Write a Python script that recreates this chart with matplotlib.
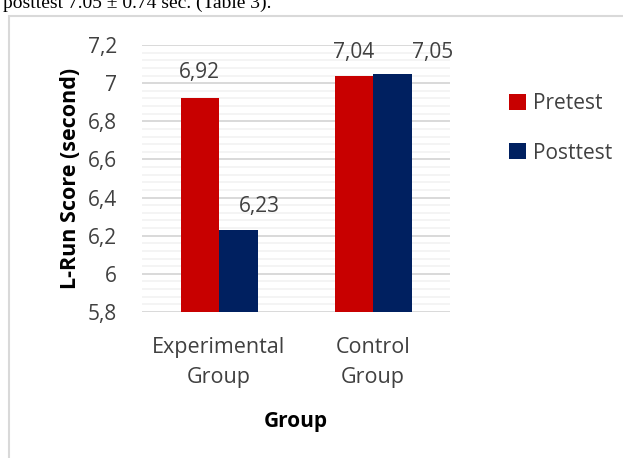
import matplotlib.pyplot as plt
from matplotlib.patches import Rectangle
from matplotlib.ticker import MultipleLocator, FuncFormatter
import numpy as np

plt.rcParams['font.family'] = ['Open Sans', 'DejaVu Sans']

# Data
groups = ['Experimental\nGroup', 'Control\nGroup']
pretest = [6.92, 7.04]
posttest = [6.23, 7.05]
series_names = ['Pretest', 'Posttest']
yticks = [5.8, 6.0, 6.2, 6.4, 6.6, 6.8, 7.0, 7.2]

# Colours
red = '#C80000'
navy = '#002060'
txt = '#404040'

fig = plt.figure(figsize=(6.23, 4.58), dpi=100)
fig.patch.set_facecolor('white')

# cropped caption line from the page above the chart (cut off in the source too)
fig.text(3 / 623, 1 - 7.5 / 458, 'posttest 7.05 \u00b1 0.74 sec. (Table 3).',
         family='Liberation Serif', fontsize=14, va='baseline', ha='left')

# chart border
fig.patches.append(Rectangle((9 / 623, -0.1), 1.2, 1 - 16 / 458 + 0.1,
                             transform=fig.transFigure, fill=False,
                             edgecolor='#D9D9D9', linewidth=1.5))

ax = fig.add_axes([142 / 623, 1 - 312 / 458, 308 / 623, 267 / 458])

x = np.arange(len(groups))
w = 0.25
b1 = ax.bar(x - w / 2, np.array(pretest) - 5.8, w, bottom=5.8, color=red, label=series_names[0], zorder=3)
b2 = ax.bar(x + w / 2, np.array(posttest) - 5.8, w, bottom=5.8, color=navy, label=series_names[1], zorder=3)

# data labels (Excel nudged some to avoid overlap)
offsets = [[(0, 26), (0, 23.5)], [(21, 23), (40, 21.6)]]
for s, (bars, vals) in enumerate([(b1, pretest), (b2, posttest)]):
    for i, (bar, v) in enumerate(zip(bars, vals)):
        dx, dy = offsets[s][i]
        ax.annotate(f'{v:.2f}'.replace('.', ','),
                    (bar.get_x() + bar.get_width() / 2, v),
                    xytext=(dx, dy), textcoords='offset pixels',
                    ha='center', va='center', fontsize=15, color=txt)

ax.set_xlim(-0.5, 1.5)
ax.set_ylim(5.8, 7.2)
ax.set_yticks(yticks)
ax.yaxis.set_major_formatter(FuncFormatter(lambda v, p: f'{v:g}'.replace('.', ',')))
ax.yaxis.set_minor_locator(MultipleLocator(0.04))
ax.set_xticks(x)
ax.set_xticklabels(groups, linespacing=1.55)

ax.grid(axis='y', which='major', color='#D9D9D9', linewidth=1.4, zorder=0)
ax.grid(axis='y', which='minor', color='#F2F2F2', linewidth=1.2, zorder=0)
ax.set_axisbelow(True)

for sp in ax.spines.values():
    sp.set_visible(False)

ax.tick_params(axis='y', which='both', length=0, pad=18, labelsize=15, labelcolor=txt)
ax.tick_params(axis='x', which='both', length=0, pad=18, labelsize=15.5, labelcolor=txt)

ax.set_ylabel('L-Run Score (second)', fontsize=15.5, fontweight='bold', labelpad=5)
ax.set_xlabel('Group', fontsize=15, fontweight='bold', labelpad=17)

fig.legend(handles=[b1, b2], loc='upper left', bbox_to_anchor=(499 / 623, 1 - 83 / 458),
           frameon=False, fontsize=15, handlelength=0.8, handleheight=0.8,
           handletextpad=0.35, labelspacing=1.35, borderpad=0, labelcolor=txt)

fig.savefig('out.png', dpi=100)
